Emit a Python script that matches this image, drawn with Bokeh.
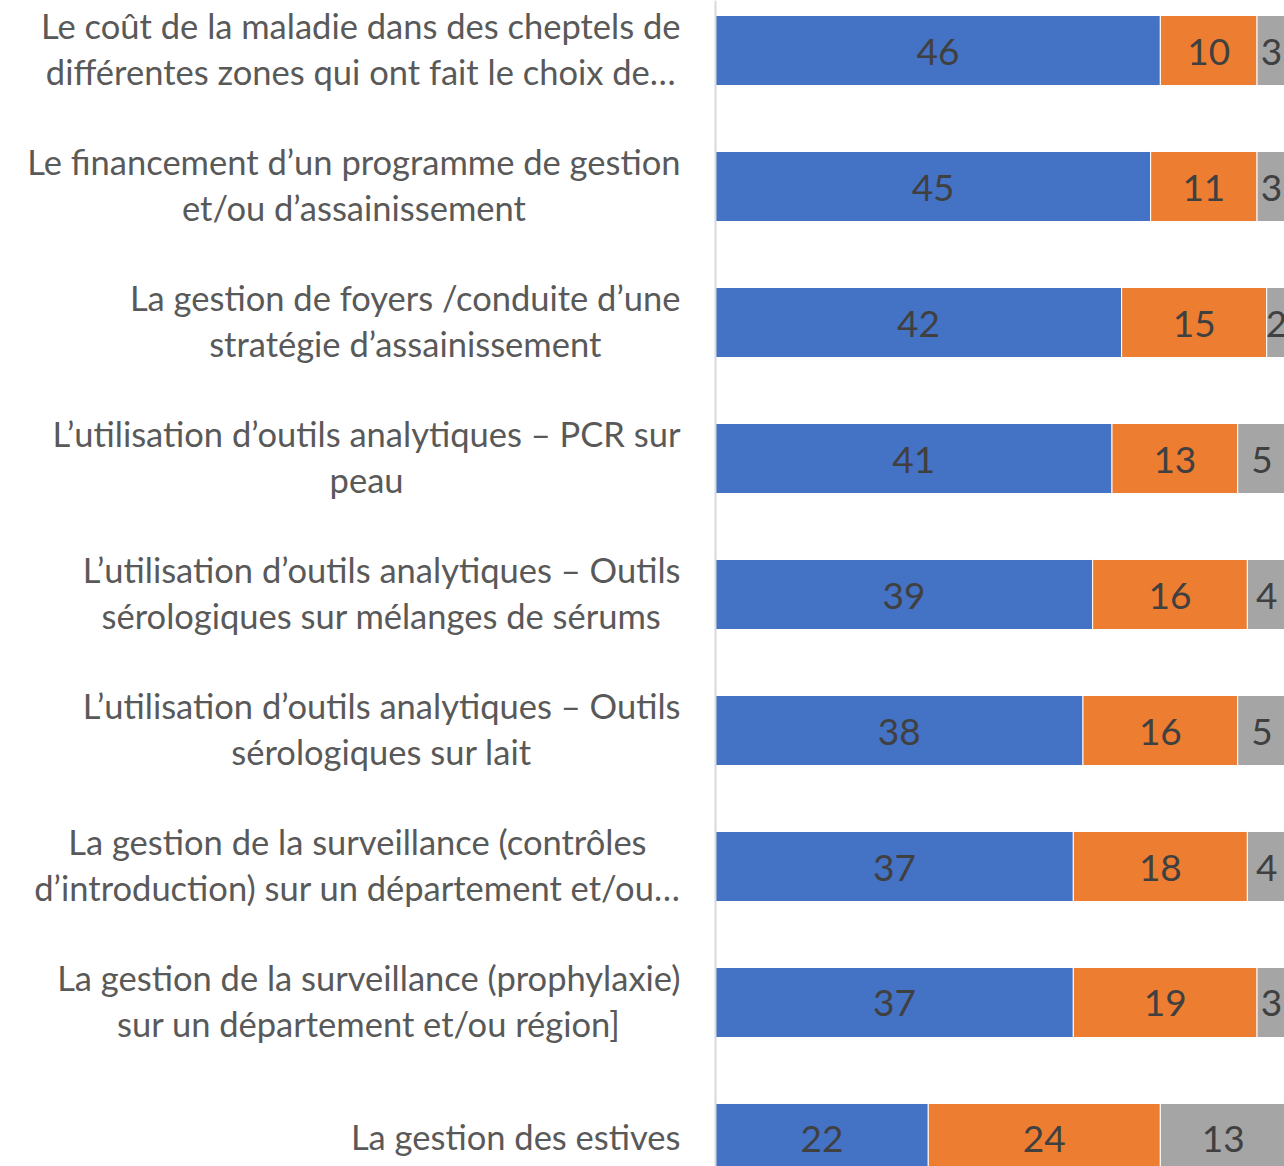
from bokeh.plotting import figure
from bokeh.models import ColumnDataSource, Range1d, Span
from bokeh.core.properties import value
from bokeh.embed import file_html
from bokeh.resources import INLINE

categories = [
    "Le coût de la maladie dans des cheptels de\ndifférentes zones qui ont fait le choix de…",
    "Le financement d\u2019un programme de gestion\net/ou d\u2019assainissement",
    "La gestion de foyers /conduite d\u2019une\nstratégie d\u2019assainissement",
    "L\u2019utilisation d\u2019outils analytiques \u2013 PCR sur\npeau",
    "L\u2019utilisation d\u2019outils analytiques \u2013 Outils\nsérologiques sur mélanges de sérums",
    "L\u2019utilisation d\u2019outils analytiques \u2013 Outils\nsérologiques sur lait",
    "La gestion de la surveillance (contrôles\nd\u2019introduction) sur un département et/ou…",
    "La gestion de la surveillance (prophylaxie)\nsur un département et/ou région]",
    "La gestion des estives",
]
series_blue = [46, 45, 42, 41, 39, 38, 37, 37, 22]
series_orange = [10, 11, 15, 13, 16, 16, 18, 19, 24]
series_gray = [3, 3, 2, 5, 4, 5, 4, 3, 13]
colors = ["#4472C4", "#ED7D31", "#A5A5A5"]

n = len(categories)
ys = list(range(n))

p = figure(width=1284, height=1166, output_backend="svg", toolbar_location=None,
           x_range=Range1d(-73.94, 58.84), y_range=Range1d(8.206, -0.368),
           min_border=0, min_border_left=0, min_border_right=0,
           min_border_top=0, min_border_bottom=0)
p.axis.visible = False
p.grid.visible = False
p.outline_line_color = None
p.background_fill_color = "white"
p.border_fill_color = "white"

left = [0] * n
for vals, col in zip([series_blue, series_orange, series_gray], colors):
    right = [l + v for l, v in zip(left, vals)]
    src = ColumnDataSource(dict(y=ys, left=left, right=right,
                                mid=[(l + r) / 2 for l, r in zip(left, right)],
                                lab=[str(v) for v in vals]))
    p.hbar(y="y", left="left", right="right", height=0.515, source=src,
           fill_color=col, line_color="white", line_width=1)
    p.text(x="mid", y="y", text="lab", source=src, text_align="center",
           text_baseline="middle", text_font=value("Lato"),
           text_font_size="37px", text_color="#404040", y_offset=1)
    left = right

p.add_layout(Span(location=0, dimension="height", line_color="#D9D9D9", line_width=2))

lsrc = ColumnDataSource(dict(x=[-3.62] * n, y=ys, t=categories))
p.text(x="x", y="y", text="t", source=lsrc, text_align="center",
       anchor="center_right", text_baseline="middle",
       text_font=value("Lato"), text_font_size="34.5px",
       text_color="#595959", text_line_height=1.14, y_offset=-2)

open("out.html", "w").write(file_html(p, INLINE))
